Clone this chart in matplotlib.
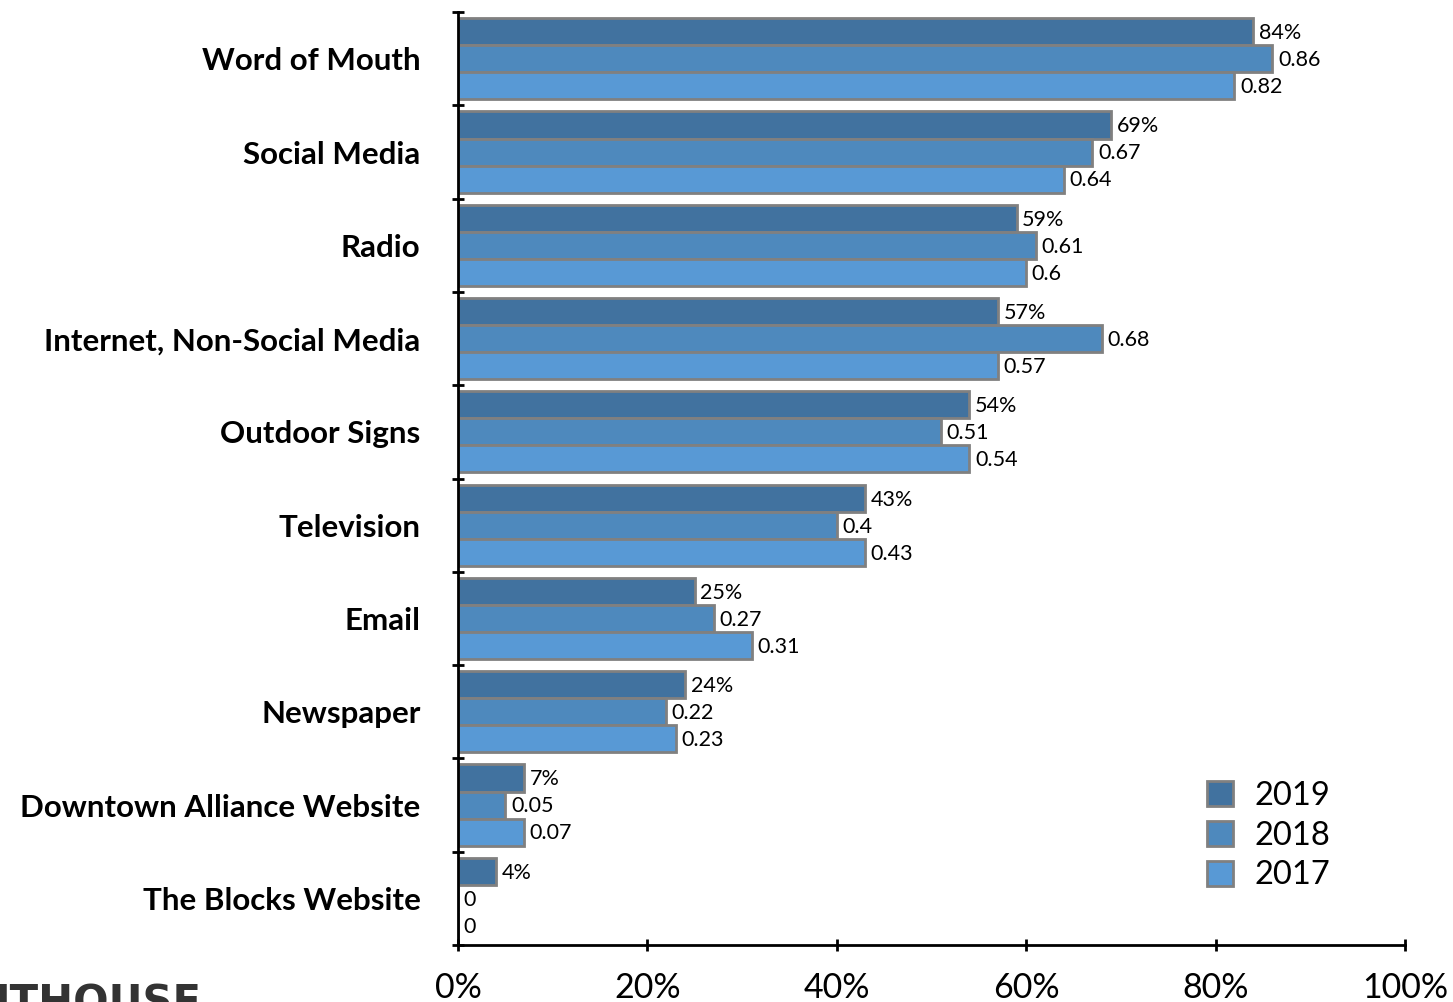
import matplotlib.pyplot as plt
from matplotlib.ticker import FixedLocator, FuncFormatter

plt.rcParams['font.family'] = ['Lato', 'DejaVu Sans']

categories = ["Word of Mouth", "Social Media", "Radio", "Internet, Non-Social Media",
              "Outdoor Signs", "Television", "Email", "Newspaper",
              "Downtown Alliance Website", "The Blocks Website"]
share_2019 = [0.84, 0.69, 0.59, 0.57, 0.54, 0.43, 0.25, 0.24, 0.07, 0.04]
share_2018 = [0.86, 0.67, 0.61, 0.68, 0.51, 0.40, 0.27, 0.22, 0.05, 0.0]
share_2017 = [0.82, 0.64, 0.60, 0.57, 0.54, 0.43, 0.31, 0.23, 0.07, 0.0]

years = ["2019", "2018", "2017"]
colors = ["#41729F", "#4E89BD", "#5899D5"]

fig = plt.figure(figsize=(14.53, 10.02), dpi=100)
ax = fig.add_axes([0.3152, 0.0569, 0.6517, 0.9310])

h = 0.29
y = list(range(len(categories)))
series = [share_2019, share_2018, share_2017]
for i, (vals, col, yr) in enumerate(zip(series, colors, years)):
    pos = [k + (i - 1) * h for k in y]
    bars = ax.barh(pos, vals, height=h, color=col, edgecolor="#808080",
                   linewidth=2, label=yr)
    for b, v in zip(bars, vals):
        txt = f"{v:.0%}" if i == 0 else f"{v:g}"
        ax.annotate(txt, (b.get_width(), b.get_y() + b.get_height() / 2),
                    xytext=(4, -1), textcoords="offset points",
                    ha="left", va="center", fontsize=15.5)

ax.set_xlim(0, 1)
ax.set_ylim(len(categories) - 0.5, -0.5)

# group boundaries carry the tick marks, labels sit at group centres
ax.yaxis.set_major_locator(FixedLocator([k - 0.5 for k in range(len(categories) + 1)]))
ax.yaxis.set_major_formatter(FuncFormatter(lambda v, p: ""))
ax.yaxis.set_minor_locator(FixedLocator(y))
ax.set_yticklabels(categories, minor=True, fontsize=22.5, fontweight="bold")
ax.tick_params(axis="y", which="major", direction="inout", length=9, width=2)
ax.tick_params(axis="y", which="minor", length=0, pad=27)

ax.set_xticks([0, 0.2, 0.4, 0.6, 0.8, 1.0])
ax.xaxis.set_major_formatter(FuncFormatter(lambda v, p: f"{v:.0%}"))
ax.tick_params(axis="x", direction="inout", length=9, width=2, labelsize=24.5, pad=15)

for s in ["top", "right"]:
    ax.spines[s].set_visible(False)
for s in ["left", "bottom"]:
    ax.spines[s].set_linewidth(2)

ax.legend(loc="upper left", bbox_to_anchor=(0.8105, 0.250), bbox_transform=fig.transFigure,
          frameon=False, fontsize=23.5, handlelength=0.8, handleheight=0.8,
          labelspacing=0.3, handletextpad=0.65)

fig.text(-0.004, -0.013, "ITHOUSE", fontsize=30, fontweight="bold", color="#333333",
         family="Liberation Sans Narrow", ha="left", va="baseline")

fig.savefig("out.png", dpi=100)
